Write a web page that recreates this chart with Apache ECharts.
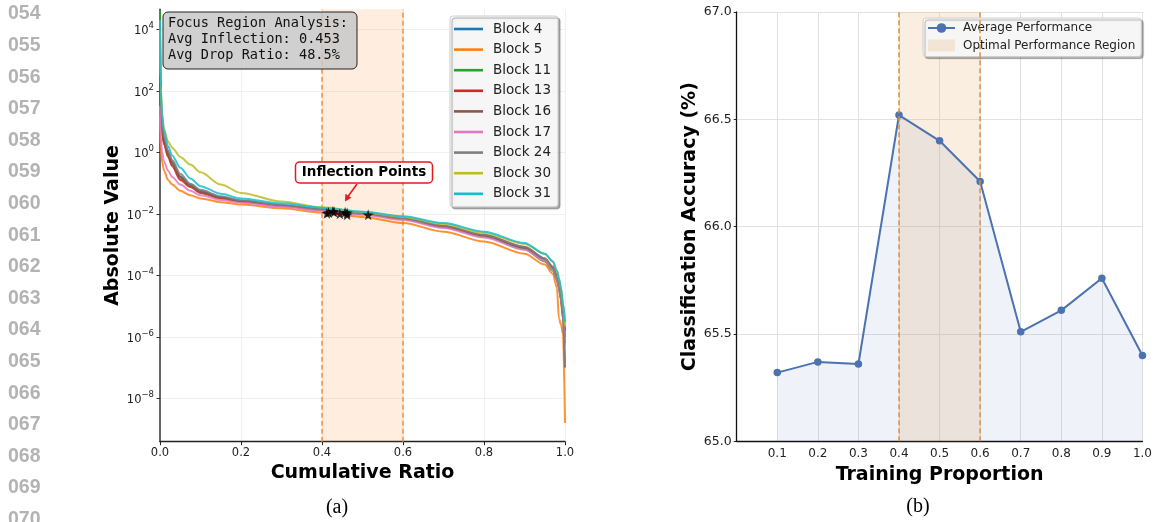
<!DOCTYPE html>
<html><head><meta charset="utf-8">
<script src="https://cdn.jsdelivr.net/npm/echarts@6/dist/echarts.min.js"></script>
<style>html,body{margin:0;padding:0;background:#fff}#c{width:1155px;height:522px}</style>
</head><body><div id="c"></div>
<script>
// ---------- Panel (a): sorted absolute values (log10 of value) vs cumulative ratio ----------
const ratio = [0, 0.002, 0.005, 0.01, 0.02, 0.03, 0.05, 0.075, 0.1, 0.15, 0.2, 0.3, 0.4, 0.5, 0.6, 0.7, 0.8, 0.9, 0.95, 0.97, 0.98, 0.985, 0.99, 0.995, 1.0];
const blockNames = ['Block 4', 'Block 5', 'Block 11', 'Block 13', 'Block 16', 'Block 17', 'Block 24', 'Block 30', 'Block 31'];
const block4  = [3.2, 1.6, 0.8, 0.35, -0.05, -0.35, -0.78, -1.05, -1.25, -1.45, -1.58, -1.73, -1.86, -1.99, -2.16, -2.42, -2.72, -3.12, -3.5, -3.8, -4.1, -4.35, -4.7, -5.2, -6.2];
const block5  = [1.2, 0.1, -0.3, -0.6, -0.9, -1.05, -1.25, -1.4, -1.5, -1.62, -1.7, -1.82, -1.96, -2.1, -2.3, -2.58, -2.9, -3.3, -3.65, -3.95, -4.4, -5.4, -5.6, -5.9, -8.8];
const block11 = [4.6, 1.5, 0.7, 0.3, -0.1, -0.4, -0.85, -1.1, -1.3, -1.48, -1.6, -1.74, -1.87, -2.0, -2.17, -2.43, -2.74, -3.15, -3.55, -3.85, -4.15, -4.4, -4.75, -5.3, -6.0];
const block13 = [2.5, 1.4, 0.65, 0.25, -0.15, -0.45, -0.9, -1.13, -1.32, -1.5, -1.61, -1.74, -1.87, -2.0, -2.16, -2.41, -2.7, -3.08, -3.45, -3.72, -4.0, -4.25, -4.6, -5.1, -5.8];
const block16 = [3.0, 1.7, 0.85, 0.4, 0.0, -0.3, -0.8, -1.08, -1.28, -1.47, -1.59, -1.73, -1.86, -1.99, -2.15, -2.4, -2.7, -3.1, -3.48, -3.78, -4.1, -4.4, -4.8, -5.4, -7.0];
const block17 = [1.5, 0.5, 0.0, -0.3, -0.6, -0.8, -1.05, -1.25, -1.4, -1.55, -1.64, -1.77, -1.9, -2.03, -2.2, -2.46, -2.77, -3.17, -3.52, -3.82, -4.12, -4.4, -4.75, -5.3, -6.3];
const block24 = [3.5, 1.9, 1.0, 0.5, 0.05, -0.25, -0.7, -1.02, -1.22, -1.43, -1.56, -1.71, -1.85, -1.98, -2.14, -2.39, -2.68, -3.07, -3.45, -3.75, -4.05, -4.35, -4.75, -5.4, -6.9];
const block30 = [4.0, 2.2, 1.3, 0.75, 0.35, 0.15, -0.15, -0.4, -0.65, -1.05, -1.32, -1.6, -1.79, -1.94, -2.1, -2.33, -2.62, -2.98, -3.3, -3.55, -3.85, -4.1, -4.4, -4.9, -5.65];
const block31 = [4.3, 2.0, 1.2, 0.7, 0.2, -0.1, -0.5, -0.85, -1.1, -1.35, -1.5, -1.66, -1.8, -1.93, -2.08, -2.3, -2.58, -2.95, -3.3, -3.55, -3.85, -4.1, -4.4, -4.9, -5.5];
const blockSeries = [block4, block5, block11, block13, block16, block17, block24, block30, block31];
const blockColors = ['#1f77b4', '#ff7f0e', '#2ca02c', '#d62728', '#8c564b', '#e377c2', '#7f7f7f', '#bcbd22', '#17becf'];
const inflectionX = [0.412, 0.416, 0.427, 0.43, 0.444, 0.457, 0.462, 0.462, 0.514];
const inflectionY = [-1.98, -1.96, -1.92, -1.94, -2.0, -1.95, -2.03, -1.97, -2.03];
const yTickExp = [-8, -6, -4, -2, 0, 2, 4];
const focusRegion = [0.4, 0.6];

// ---------- Panel (b): accuracy vs training proportion ----------
const proportion = [0.1, 0.2, 0.3, 0.4, 0.5, 0.6, 0.7, 0.8, 0.9, 1.0];
const avgPerformance = [65.32, 65.37, 65.36, 66.52, 66.40, 66.21, 65.51, 65.61, 65.76, 65.40];
const optimalRegion = [0.4, 0.6];

const lineNumbers = ['054','055','056','057','058','059','060','061','062','063','064','065','066','067','068','069','070'];

const FONT = 'DejaVu Sans';
const NAME_SIZE = 19;
const fmtPow = v => '{b|10}{s|' + String(Math.round(v)).replace('-', '\u2212') + '}';
const STAR = 'path://M50,0 L61,35 L98,35 L68,57 L79,91 L50,70 L21,91 L32,57 L2,35 L39,35 Z';
const LINE_ICON = 'rect';

const chart = echarts.init(document.getElementById('c'), null, {renderer: 'canvas'});

const seriesA = blockNames.map((name, i) => ({
  name: name, type: 'line', xAxisIndex: 0, yAxisIndex: 0,
  data: ratio.map((r, j) => [r, blockSeries[i][j]]),
  symbol: 'none', smooth: 0.3, smoothMonotone: 'x',
  color: blockColors[i],
  lineStyle: {width: 2, color: blockColors[i], opacity: 0.85},
  z: 3,
  animation: false
}));

seriesA.push({
  name: 'focus', type: 'scatter', xAxisIndex: 0, yAxisIndex: 0,
  data: inflectionX.map((x, i) => [x, inflectionY[i]]),
  symbol: STAR, symbolSize: 11,
  itemStyle: {color: '#000'}, z: 6, animation: false,
  markArea: {silent: true, z: 1, itemStyle: {color: 'rgba(255,127,14,0.13)'},
    data: [[{xAxis: focusRegion[0]}, {xAxis: focusRegion[1]}]]},
  markLine: {silent: true, symbol: 'none', z: 2, label: {show: false},
    lineStyle: {color: '#ff8c2e', type: [5, 3], width: 1.5},
    data: focusRegion.map(v => ({xAxis: v}))}
});

const seriesB = [
  {
    name: 'Optimal Performance Region', type: 'line', xAxisIndex: 1, yAxisIndex: 1, data: [],
    color: 'rgba(230,170,100,0.22)',
    markArea: {silent: true, z: 1, itemStyle: {color: 'rgba(230,170,100,0.2)'},
      data: [[{xAxis: optimalRegion[0]}, {xAxis: optimalRegion[1]}]]},
    markLine: {silent: true, symbol: 'none', z: 4, label: {show: false},
      lineStyle: {color: '#e0913c', type: [5, 3], width: 1.5},
      data: optimalRegion.map(v => ({xAxis: v}))},
    animation: false
  },
  {
    name: 'Average Performance', type: 'line', xAxisIndex: 1, yAxisIndex: 1,
    data: proportion.map((p, i) => [p, avgPerformance[i]]),
    symbol: 'circle', symbolSize: 7.5, showSymbol: true,
    color: '#4c72b0',
    lineStyle: {width: 2, color: '#4c72b0'},
    itemStyle: {color: '#4c72b0'},
    areaStyle: {color: 'rgba(76,114,176,0.13)', origin: 'start'},
    z: 3, animation: false
  }
];

const graphics = [];
lineNumbers.forEach((t, i) => {
  graphics.push({type: 'text', x: 8, y: 14 + i * 31.6,
    style: {text: t, font: 'bold 19.5px "Liberation Sans"', fill: '#b3b3b3', verticalAlign: 'middle'}});
});
graphics.push({type: 'text', x: 337, y: 508, style: {text: '(a)', font: '20px "Liberation Serif"', fill: '#000', align: 'center', verticalAlign: 'middle'}});
graphics.push({type: 'text', x: 918, y: 507, style: {text: '(b)', font: '20px "Liberation Serif"', fill: '#000', align: 'center', verticalAlign: 'middle'}});
// annotation box
graphics.push({type: 'rect', shape: {x: 163, y: 12, width: 194, height: 57, r: 5}, z: 20,
  style: {fill: 'rgba(200,200,200,0.85)', stroke: '#222', lineWidth: 1}});
graphics.push({type: 'text', x: 168, y: 15.5, z: 21,
  style: {text: 'Focus Region Analysis:\nAvg Inflection: 0.453\nAvg Drop Ratio: 48.5%', font: '13.6px "DejaVu Sans Mono"', lineHeight: 16, fill: '#111'}});
// inflection label
graphics.push({type: 'rect', shape: {x: 295.5, y: 162, width: 137, height: 21, r: 4}, z: 20,
  style: {fill: '#fff', stroke: '#e41a1c', lineWidth: 1.5}});
graphics.push({type: 'text', x: 364, y: 172.5, z: 21,
  style: {text: 'Inflection Points', font: 'bold 13.5px "DejaVu Sans"', fill: '#000', align: 'center', verticalAlign: 'middle'}});
graphics.push({type: 'line', shape: {x1: 357, y1: 184, x2: 348, y2: 196.5}, z: 20, style: {stroke: '#e41a1c', lineWidth: 1.6}});
graphics.push({type: 'polygon', shape: {points: [[345, 201.5], [351.4, 197.8], [345.4, 193.8]]}, z: 20, style: {fill: '#e41a1c'}});

const option = {
  animation: false,
  backgroundColor: '#fff',
  textStyle: {fontFamily: FONT},
  grid: [
    {left: 160, right: 590, top: 9.3, bottom: 80.3, containLabel: false},
    {left: 736.7, right: 9, top: 12, bottom: 80.7, containLabel: false}
  ],
  xAxis: [
    {type: 'value', gridIndex: 0, min: 0, max: 1, interval: 0.2,
     axisLine: {onZero: false, lineStyle: {color: '#222', width: 1.3}},
     axisTick: {show: true, length: 3.5, lineStyle: {color: '#222'}},
     axisLabel: {fontSize: 11.5, color: '#222', margin: 5, formatter: v => v.toFixed(1)},
     splitLine: {show: true, lineStyle: {color: '#ececec', width: 0.8}},
     name: 'Cumulative Ratio', nameLocation: 'middle', nameGap: 18,
     nameTextStyle: {fontSize: NAME_SIZE, fontWeight: 'bold', color: '#000'}},
    {type: 'value', gridIndex: 1, min: 0, max: 1, interval: 0.1,
     axisLine: {onZero: false, lineStyle: {color: '#111', width: 1.3}},
     axisTick: {show: false},
     axisLabel: {fontSize: 12, color: '#222', margin: 7, formatter: v => (Math.abs(v) < 1e-9 ? '' : v.toFixed(1))},
     splitLine: {show: true, lineStyle: {color: '#dedede', width: 0.9}},
     name: 'Training Proportion', nameLocation: 'middle', nameGap: 19,
     nameTextStyle: {fontSize: NAME_SIZE, fontWeight: 'bold', color: '#000'}}
  ],
  yAxis: [
    {type: 'value', gridIndex: 0, min: -9.41, max: 4.65,
     axisLine: {show: true, onZero: false, lineStyle: {color: '#444', width: 1.6}},
     axisTick: {show: true, length: 3.5, lineStyle: {color: '#333'}, customValues: yTickExp},
     axisLabel: {color: '#222', margin: 6, customValues: yTickExp, formatter: fmtPow,
       rich: {b: {fontSize: 11.5, fontFamily: FONT, color: '#222', verticalAlign: 'bottom', lineHeight: 16},
              s: {fontSize: 8.5, fontFamily: FONT, color: '#222', verticalAlign: 'top', lineHeight: 10}}},
     splitLine: {show: true, lineStyle: {color: '#ececec', width: 0.8}},
     name: 'Absolute Value', nameLocation: 'middle', nameGap: 37,
     nameTextStyle: {fontSize: NAME_SIZE, fontWeight: 'bold', color: '#000'}},
    {type: 'value', gridIndex: 1, min: 65, max: 67, interval: 0.5,
     axisLine: {show: true, onZero: false, lineStyle: {color: '#111', width: 1.3}},
     axisTick: {show: true, length: 3, lineStyle: {color: '#222'}},
     axisLabel: {fontSize: 12.5, color: '#222', margin: 5, formatter: v => v.toFixed(1)},
     splitLine: {show: true, lineStyle: {color: '#dedede', width: 0.9}},
     name: 'Classification Accuracy (%)', nameLocation: 'middle', nameGap: 37,
     nameTextStyle: {fontSize: NAME_SIZE, fontWeight: 'bold', color: '#000'}}
  ],
  legend: [
    {data: blockNames.map(n => ({name: n, icon: LINE_ICON})), orient: 'vertical', left: 450, top: 16,
     itemWidth: 29, itemHeight: 2.6, itemGap: 4.6,
     padding: [5, 7, 5, 4],
     textStyle: {fontSize: 13.5, color: '#222', fontFamily: FONT, lineHeight: 16, padding: [0, 0, 0, 5]},
     backgroundColor: 'rgba(250,250,250,0.95)', borderColor: '#cfcfcf', borderWidth: 1, borderRadius: 3,
     shadowColor: 'rgba(0,0,0,0.35)', shadowBlur: 1, shadowOffsetX: 2, shadowOffsetY: 2,
     selectedMode: false},
    {data: [{name: 'Average Performance'}, {name: 'Optimal Performance Region', icon: 'rect', itemStyle: {color: 'rgba(230,170,100,0.22)'}}],
     orient: 'vertical', left: 923, top: 18,
     itemWidth: 27, itemHeight: 12, itemGap: 5.5,
     padding: [4, 6, 5, 4],
     textStyle: {fontSize: 12, color: '#222', fontFamily: FONT, padding: [0, 0, 0, 3]},
     backgroundColor: 'rgba(250,250,250,0.95)', borderColor: '#cfcfcf', borderWidth: 1, borderRadius: 3,
     shadowColor: 'rgba(0,0,0,0.3)', shadowBlur: 1, shadowOffsetX: 2, shadowOffsetY: 2,
     selectedMode: false}
  ],
  series: seriesA.concat(seriesB),
  graphic: graphics
};
chart.setOption(option);
</script>
</body></html>
